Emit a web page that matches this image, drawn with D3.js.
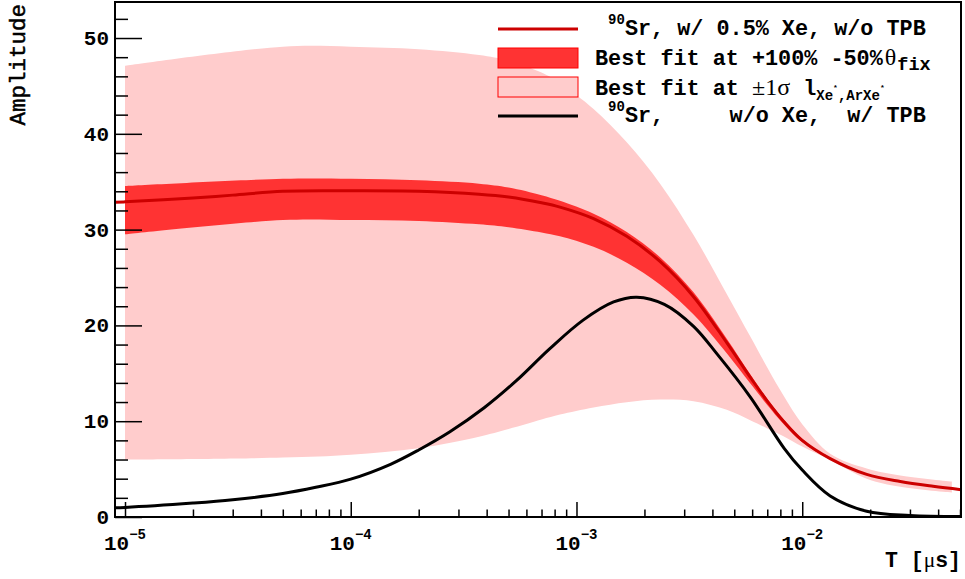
<!DOCTYPE html>
<html lang="en">
<head>
<meta charset="utf-8">
<title>Amplitude vs T</title>
<script src="https://d3js.org/d3.v7.min.js"></script>
<style>
  body { margin: 0; background: #fff; }
  svg text { font-family: "Liberation Mono", "Courier New", monospace; font-weight: bold; fill: #000; }
  .sym { font-family: "Liberation Serif", "DejaVu Serif", serif; font-weight: normal; }
</style>
</head>
<body>
<script>

// Sr-90 with 0.5% Xe, no TPB (red line)
var T_sr = [9.03e-6, 1e-5, 2e-5, 3e-5, 5e-5, 1e-4, 2e-4, 3.7e-4, 5e-4, 7e-4, 8.45e-4, 1.19e-3, 1.67e-3,
            2.35e-3, 3.3e-3, 4.63e-3, 5.88e-3, 7e-3, 8.26e-3, 1e-2, 1.33e-2, 1.93e-2, 2.72e-2, 3.8e-2, 5.05e-2];
var amp_sr = [32.85, 32.9, 33.3, 33.6, 34.0, 34.05, 34.0, 33.7, 33.4, 32.8, 32.35, 31.15, 29.3,
              26.65, 23.0, 18.2, 14.6, 12.1, 10.0, 8.0, 6.1, 4.45, 3.7, 3.2, 2.85];

// bands (same T grid)
var T_band = [1e-5, 5e-5, 1e-4, 2e-4, 3.7e-4, 5e-4, 7e-4, 8.45e-4, 1.19e-3, 1.67e-3, 2.35e-3, 3.3e-3,
              4.63e-3, 5.88e-3, 7e-3, 8.26e-3, 1e-2, 1.33e-2, 1.93e-2, 2.72e-2, 4.6e-2];
// +100% -50% theta_fix
var fixHi = [34.55, 35.3, 35.3, 35.15, 34.8, 34.4, 33.6, 33.0, 31.65, 29.75, 27.1, 23.45,
             18.6, 14.9, 12.35, 10.2, 8.15, 6.15, 4.5, 3.75, 3.0];
var fixLo = [29.5, 31.0, 31.0, 30.9, 30.55, 30.25, 29.7, 29.3, 28.2, 26.55, 24.25, 21.15,
             17.1, 13.95, 11.7, 9.72, 7.8, 6.0, 4.4, 3.65, 2.9];
// +-1 sigma
var sigHi = [47.1, 49.1, 49.1, 48.83, 48.23, 47.64, 46.39, 45.29, 42.6, 39.11, 34.77, 29.43,
             23.29, 18.86, 15.61, 12.68, 9.69, 6.61, 5.07, 4.33, 3.7];
var sigLo = [6.0, 6.2, 6.5, 7.18, 8.38, 9.18, 10.17, 10.69, 11.43, 11.99, 12.26, 12.09,
             11.19, 10.1, 9.25, 8.43, 7.35, 5.95, 4.0, 3.15, 2.55];

// Sr-90 without Xe, with TPB (black line)
var T_tpb = [9.03e-6, 1e-5, 2e-5, 3e-5, 5e-5, 7e-5, 1e-4, 1.5e-4, 2e-4, 2.75e-4, 3.9e-4, 5.4e-4, 7.6e-4,
             1.07e-3, 1.46e-3, 1.85e-3, 2.45e-3, 3.3e-3, 4.2e-3, 5.9e-3, 8.3e-3, 1e-2, 1.33e-2,
             1.93e-2, 3e-2, 5.05e-2];
var amp_tpb = [0.97, 1.0, 1.45, 1.8, 2.45, 3.1, 3.95, 5.5, 7.0, 8.9, 11.4, 14.2, 17.55,
               20.55, 22.45, 22.95, 22.2, 19.9, 17.0, 12.5, 7.2, 4.9, 2.2,
               0.6, 0.15, 0.05];

var yTicks = [0, 10, 20, 30, 40, 50];
var xDecades = [-5, -4, -3, -2];

var w = 965, h = 579;
var pLeft = 115, pRight = 961, pTop = 2, pBottom = 517;

var x = d3.scaleLog().domain([9.03e-6, 0.0505]).range([pLeft, pRight]);
var y = d3.scaleLinear().domain([0, 53.76]).range([pBottom, pTop]);

var svg = d3.select("body").append("svg")
  .attr("width", w)
  .attr("height", h);

var plot = svg.append("g");

var band = T_band.map(function(t, i) {
  return { t: t, fh: fixHi[i], fl: fixLo[i], sh: sigHi[i], sl: sigLo[i] };
});

var smooth = d3.curveCatmullRom.alpha(0.5);

// light band
plot.append("path")
  .datum(band)
  .attr("fill", "#ffcccc")
  .attr("d", d3.area()
    .x(function(d) { return x(d.t); })
    .y0(function(d) { return y(d.sl); })
    .y1(function(d) { return y(d.sh); })
    .curve(smooth));

// dark band
plot.append("path")
  .datum(band)
  .attr("fill", "#ff3333")
  .attr("d", d3.area()
    .x(function(d) { return x(d.t); })
    .y0(function(d) { return y(d.fl); })
    .y1(function(d) { return y(d.fh); })
    .curve(smooth));

var line = d3.line()
  .x(function(d) { return x(d[0]); })
  .y(function(d) { return y(d[1]); })
  .curve(smooth);

plot.append("path")
  .datum(d3.zip(T_sr, amp_sr))
  .attr("fill", "none")
  .attr("stroke", "#cc0000")
  .attr("stroke-width", 3)
  .attr("d", line);

plot.append("path")
  .datum(d3.zip(T_tpb, amp_tpb))
  .attr("fill", "none")
  .attr("stroke", "#000")
  .attr("stroke-width", 3)
  .attr("d", line);

// frame
svg.append("rect")
  .attr("x", pLeft).attr("y", pTop)
  .attr("width", pRight - pLeft).attr("height", pBottom - pTop)
  .attr("fill", "none").attr("stroke", "#000").attr("stroke-width", 2);

// y axis ticks
var yMinor = d3.range(0, 54, 2).filter(function(v) { return v % 10 != 0; });
function yAxisG(vals, len) {
  svg.append("g")
    .attr("transform", "translate(" + pLeft + ",0)")
    .call(d3.axisRight(y).tickValues(vals).tickSize(len).tickSizeOuter(0).tickFormat(""))
    .call(function(g) { g.select(".domain").remove(); g.selectAll("line").attr("stroke-width", 1.5); });
}
yAxisG(yTicks, 27);
yAxisG(yMinor, 13);

svg.selectAll(".ylab")
  .data(yTicks)
  .enter().append("text")
  .attr("class", "ylab")
  .attr("x", 109)
  .attr("y", function(d) { return y(d) + 7; })
  .attr("text-anchor", "end")
  .style("font-size", "21px")
  .text(function(d) { return d; });

// x axis ticks
var xMajor = xDecades.map(function(e) { return Math.pow(10, e); });
var xMinor = [];
d3.range(-6, -1).forEach(function(e) {
  for (var k = 2; k <= 9; k++) {
    var v = k * Math.pow(10, e);
    if (v > x.domain()[0] && v < x.domain()[1]) xMinor.push(v);
  }
});
function xAxisG(vals, len) {
  svg.append("g")
    .attr("transform", "translate(0," + pBottom + ")")
    .call(d3.axisTop(x).tickValues(vals).tickSize(len).tickSizeOuter(0).tickFormat(""))
    .call(function(g) { g.select(".domain").remove(); g.selectAll("line").attr("stroke-width", 1.5); });
}
xAxisG(xMajor, 15);
xAxisG(xMinor, 7.5);

var xl = svg.selectAll(".xlab")
  .data(xDecades)
  .enter().append("text")
  .attr("class", "xlab")
  .attr("x", function(d) { return x(Math.pow(10, d)); })
  .attr("y", 550)
  .attr("text-anchor", "middle")
  .style("font-size", "21px");
xl.append("tspan").text("10");
xl.append("tspan")
  .attr("dy", -11)
  .style("font-size", "14px")
  .text(function(d) { return "\u2212" + Math.abs(d); });

// axis titles
var xt = svg.append("text")
  .attr("x", 961).attr("y", 567)
  .attr("text-anchor", "end")
  .style("font-size", "21.5px")
  .style("white-space", "pre");
xt.append("tspan").text("T [");
xt.append("tspan").attr("class", "sym").text("\u03bc");
xt.append("tspan").text("s]");

svg.append("text")
  .attr("transform", "translate(25,4) rotate(-90)")
  .attr("text-anchor", "end")
  .style("font-size", "22.5px")
  .style("font-weight", "normal")
  .style("stroke", "#000")
  .style("stroke-width", 0.5)
  .text("Amplitude");

// legend
var lx0 = 498, lx1 = 578, tx = 595;
var leg = svg.append("g");

leg.append("line").attr("x1", lx0).attr("x2", lx1).attr("y1", 29).attr("y2", 29)
  .attr("stroke", "#cc0000").attr("stroke-width", 3);
leg.append("rect").attr("x", lx0).attr("y", 48).attr("width", lx1 - lx0).attr("height", 20)
  .attr("fill", "#ff3333").attr("stroke", "#ff0000").attr("stroke-width", 1);
leg.append("rect").attr("x", lx0).attr("y", 77).attr("width", lx1 - lx0).attr("height", 20)
  .attr("fill", "#ffcccc").attr("stroke", "#ff0000").attr("stroke-width", 1);
leg.append("line").attr("x1", lx0).attr("x2", lx1).attr("y1", 116).attr("y2", 116)
  .attr("stroke", "#000").attr("stroke-width", 3);

function legText(yb) {
  return leg.append("text").attr("x", tx).attr("y", yb)
    .style("font-size", "21.8px").style("white-space", "pre");
}

var t1 = legText(35);
t1.append("tspan").text(" ");
t1.append("tspan").attr("dy", -11).style("font-size", "14px").text("90");
t1.append("tspan").attr("dy", 11).text("Sr, w/ 0.5% Xe, w/o TPB");

var t2 = legText(65);
t2.append("tspan").text("Best fit at +100% -50%");
t2.append("tspan").attr("class", "sym").attr("dx", 2).style("font-size", "24px").text("\u03b8");
t2.append("tspan").attr("dx", 1).attr("dy", 5).style("font-size", "18.5px").text("fix");

var t3 = legText(95);
t3.append("tspan").text("Best fit at ");
t3.append("tspan").attr("class", "sym").style("font-size", "24px").text("\u00b11\u03c3");
t3.append("tspan").text(" l");
t3.append("tspan").attr("dy", 5).style("font-size", "14px").text("Xe");
t3.append("tspan").attr("dy", -10).style("font-size", "8px").text("*");
t3.append("tspan").attr("dy", 10).style("font-size", "14px").text(",ArXe");
t3.append("tspan").attr("dy", -10).style("font-size", "8px").text("*");

var t4 = legText(122);
t4.append("tspan").text(" ");
t4.append("tspan").attr("dy", -11).style("font-size", "14px").text("90");
t4.append("tspan").attr("dy", 11).text("Sr,     w/o Xe,  w/ TPB");

</script>
</body>
</html>
